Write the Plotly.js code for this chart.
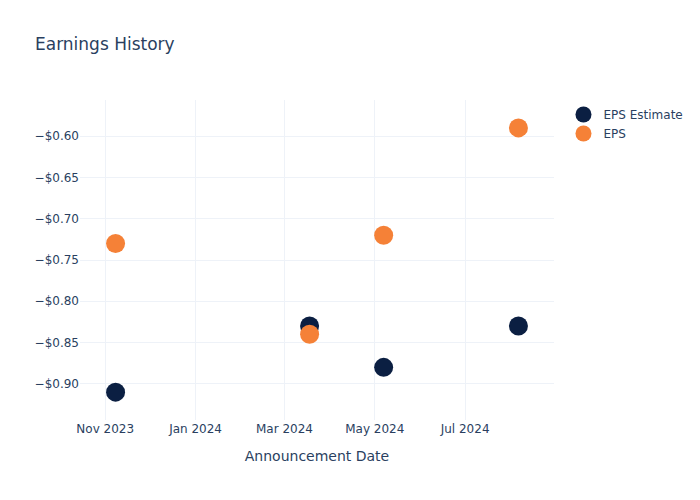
<!DOCTYPE html>
<html>
<head>
<meta charset="utf-8">
<script src="https://cdn.plot.ly/plotly-3.0.1.min.js"></script>
<style>body{margin:0;padding:0;}#chart{width:700px;height:500px;}</style>
</head>
<body>
<div id="chart"></div>
<script>
const dates = ["2023-11-08", "2024-03-18", "2024-05-07", "2024-08-06"];
const epsEstimate = [-0.91, -0.83, -0.88, -0.83];
const epsActual = [-0.73, -0.84, -0.72, -0.59];

const traces = [
  {
    x: dates, y: epsEstimate, name: "EPS Estimate", type: "scatter", mode: "markers",
    marker: {color: "#0b1f42", size: 19}
  },
  {
    x: dates, y: epsActual, name: "EPS", type: "scatter", mode: "markers",
    marker: {color: "#f58137", size: 19}
  }
];

const layout = {
  template: "plotly_white",
  width: 700, height: 500,
  paper_bgcolor: "#ffffff", plot_bgcolor: "#ffffff",
  font: {family: "DejaVu Sans, Verdana, sans-serif", color: "#2a3f5f"},
  title: {text: "Earnings History", x: 0.05},
  xaxis: {
    title: {text: "Announcement Date", standoff: 16},
    type: "date",
    gridcolor: "#EEF2F8",
    zeroline: false,
    dtick: "M2",
    tickformat: "%b %Y"
  },
  yaxis: {
    tickformat: "$.2f",
    gridcolor: "#EEF2F8",
    zeroline: false,
    dtick: 0.05
  },
  showlegend: true
};

Plotly.newPlot("chart", traces, layout, {displayModeBar: false});
</script>
</body>
</html>
